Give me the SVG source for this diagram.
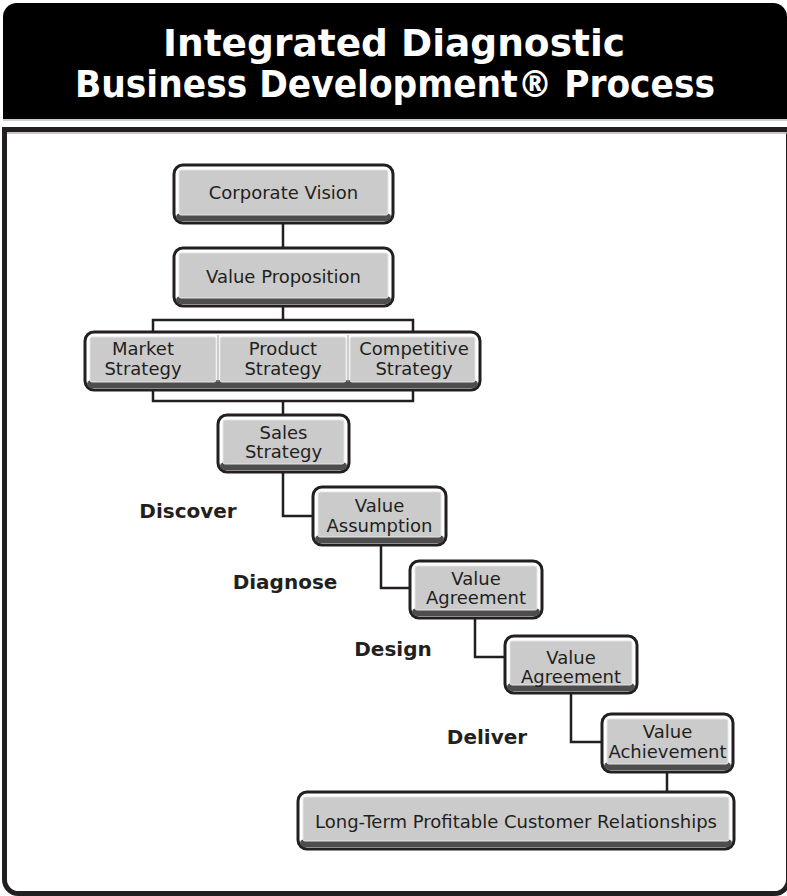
<svg xmlns="http://www.w3.org/2000/svg" width="787" height="896" viewBox="0 0 787 896">
<style>
.outer{fill:#fff;stroke:#231f20;stroke-width:3}
.band{fill:#4d4d4d}
.inner{fill:#cbcbcb;stroke:#e4e4e4;stroke-width:1}
.div{stroke:#9a9a9a;stroke-width:1}
.conn{fill:none;stroke:#231f20;stroke-width:2.5}
.t{font-family:"DejaVu Sans",sans-serif;font-size:18px;fill:#231f20;text-anchor:middle}
.lbl{font-family:"DejaVu Sans",sans-serif;font-weight:bold;font-size:20px;fill:#231f20;text-anchor:middle}
.title{font-family:"DejaVu Sans",sans-serif;font-weight:bold;font-size:38px;fill:#fff;text-anchor:middle}
</style>
<rect width="787" height="896" fill="#fff"/>
<g id="title">
<path d="M3 119 V17 A14 14 0 0 1 17 3 H773 A14 14 0 0 1 787 17 V119 Z" fill="#000"/>
<line x1="3" y1="120" x2="787" y2="120" stroke="#bdbdbd" stroke-width="1.5"/>
<text class="title" x="394" y="56" textLength="462" lengthAdjust="spacingAndGlyphs">Integrated Diagnostic</text>
<text class="title" x="395" y="97" textLength="640" lengthAdjust="spacingAndGlyphs">Business Development® Process</text>
</g>
<g id="frame">
<path d="M792 129.5 H4.5 V879.5 A14 14 0 0 0 18.5 893.5 H774.5 A14 14 0 0 0 788.5 879.5 V129.5" fill="none" stroke="#231f20" stroke-width="5"/>
<line x1="7" y1="133" x2="787" y2="133" stroke="#b3b3b3" stroke-width="1.5"/>
</g>
<g id="connectors">
<path class="conn" d="M283 223 V247"/>
<path class="conn" d="M283 306 V320"/>
<path class="conn" d="M153 333 V320 H413 V333"/>
<path class="conn" d="M153 390 V401 H413 V390"/>
<path class="conn" d="M283 401 V415"/>
<path class="conn" d="M283 472 V516 H313"/>
<path class="conn" d="M381 545 V588 H410"/>
<path class="conn" d="M475 618 V657 H505"/>
<path class="conn" d="M571 693 V742 H602"/>
<path class="conn" d="M667 772 V792"/>
</g>
<g id="corporate-vision">
<rect class="outer" x="174" y="165" width="219" height="58" rx="9"/>
<rect class="band" x="176" y="213" width="215" height="8" rx="5"/>
<rect class="inner" x="179" y="170" width="209" height="45" rx="2"/>
<text class="t" x="283.5" y="199">Corporate Vision</text>
</g>
<g id="value-proposition">
<rect class="outer" x="174" y="248" width="219" height="58" rx="9"/>
<rect class="band" x="176" y="296" width="215" height="8" rx="5"/>
<rect class="inner" x="179" y="253" width="209" height="45" rx="2"/>
<text class="t" x="283.5" y="283">Value Proposition</text>
</g>
<g id="strategies">
<rect class="outer" x="85" y="332" width="395" height="58" rx="9"/>
<rect class="band" x="87" y="380" width="391" height="8" rx="5"/>
<rect class="inner" x="90" y="337" width="126" height="45" rx="2"/>
<rect class="inner" x="220" y="337" width="126" height="45" rx="2"/>
<rect class="inner" x="350" y="337" width="125" height="45" rx="2"/>
<line class="div" x1="218" y1="335" x2="218" y2="382"/>
<line class="div" x1="348" y1="335" x2="348" y2="382"/>
<text class="t" x="143" y="355">Market</text>
<text class="t" x="143" y="375">Strategy</text>
<text class="t" x="283" y="355">Product</text>
<text class="t" x="283" y="375">Strategy</text>
<text class="t" x="414" y="355">Competitive</text>
<text class="t" x="414" y="375">Strategy</text>
</g>
<g id="sales-strategy">
<rect class="outer" x="218" y="415" width="131" height="57" rx="9"/>
<rect class="band" x="220" y="462" width="127" height="8" rx="5"/>
<rect class="inner" x="223" y="420" width="121" height="44" rx="2"/>
<text class="t" x="283.5" y="439">Sales</text>
<text class="t" x="283.5" y="458">Strategy</text>
</g>
<g id="value-assumption">
<rect class="outer" x="313" y="487" width="133" height="58" rx="9"/>
<rect class="band" x="315" y="535" width="129" height="8" rx="5"/>
<rect class="inner" x="318" y="492" width="123" height="45" rx="2"/>
<text class="t" x="379.5" y="512">Value</text>
<text class="t" x="379.5" y="532">Assumption</text>
</g>
<g id="value-agreement-1">
<rect class="outer" x="410" y="561" width="132" height="57" rx="9"/>
<rect class="band" x="412" y="608" width="128" height="8" rx="5"/>
<rect class="inner" x="415" y="566" width="122" height="44" rx="2"/>
<text class="t" x="476" y="585">Value</text>
<text class="t" x="476" y="604">Agreement</text>
</g>
<g id="value-agreement-2">
<rect class="outer" x="505" y="636" width="132" height="57" rx="9"/>
<rect class="band" x="507" y="683" width="128" height="8" rx="5"/>
<rect class="inner" x="510" y="641" width="122" height="44" rx="2"/>
<text class="t" x="571" y="664">Value</text>
<text class="t" x="571" y="683">Agreement</text>
</g>
<g id="value-achievement">
<rect class="outer" x="602" y="714" width="131" height="58" rx="9"/>
<rect class="band" x="604" y="762" width="127" height="8" rx="5"/>
<rect class="inner" x="607" y="719" width="121" height="45" rx="2"/>
<text class="t" x="667.5" y="738">Value</text>
<text class="t" x="667.5" y="758">Achievement</text>
</g>
<g id="long-term">
<rect class="outer" x="298" y="792" width="436" height="57" rx="9"/>
<rect class="band" x="300" y="839" width="432" height="8" rx="5"/>
<rect class="inner" x="303" y="797" width="426" height="44" rx="2"/>
<text class="t" x="516" y="828">Long-Term Profitable Customer Relationships</text>
</g>
<g id="labels">
<text class="lbl" x="188" y="518">Discover</text>
<text class="lbl" x="285" y="589">Diagnose</text>
<text class="lbl" x="393" y="656">Design</text>
<text class="lbl" x="487" y="744">Deliver</text>
</g>
</svg>
